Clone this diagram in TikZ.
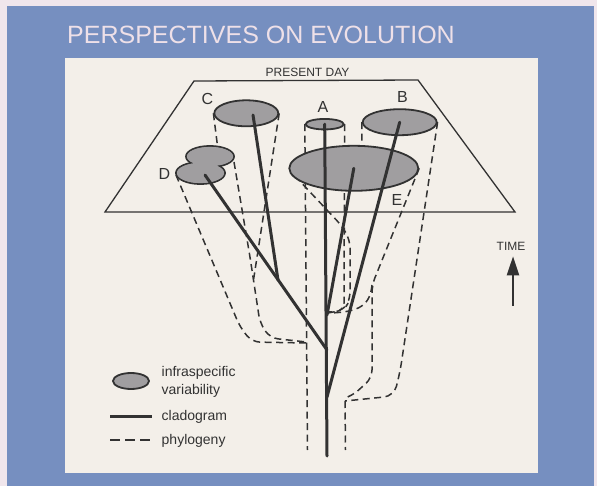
\documentclass[tikz,border=0pt]{standalone}
\usepackage{fontspec}
\setmainfont{Liberation Sans}
\usetikzlibrary{arrows.meta,positioning,shapes.geometric,backgrounds}
\definecolor{pagepink}{RGB}{240,230,236}
\definecolor{slideblue}{RGB}{118,143,192}
\definecolor{panelcream}{RGB}{243,239,233}
\definecolor{inkgray}{RGB}{50,50,50}
\definecolor{stipple}{RGB}{160,158,160}
\definecolor{titlepink}{RGB}{238,224,232}

\begin{document}
\begin{tikzpicture}[x=1pt,y=-1pt,
    spot/.style={ellipse,draw=inkgray,fill=stipple,line width=1.8pt,inner sep=0pt},
    taxon/.style={font=\fontsize{16}{16}\selectfont,text=inkgray,inner sep=0pt},
    clado/.style={draw=inkgray,line width=3pt,line cap=round},
    phylo/.style={draw=inkgray,line width=1.5pt,dash pattern=on 7pt off 4.5pt,rounded corners=8pt},
    plane/.style={draw=inkgray,line width=1.3pt},
    legtext/.style={font=\fontsize{14}{14}\selectfont,text=inkgray,anchor=base west,inner sep=0pt},
    smalltext/.style={font=\fontsize{12}{12}\selectfont,text=inkgray,inner sep=0pt}
  ]
    \useasboundingbox (0,0) rectangle (597,486);

    % present day variability
    \node[spot,minimum width=64pt,minimum height=26pt] (ellC) at (246.3,113.3) {};
    \node[spot,minimum width=38pt,minimum height=10.5pt] (ellA) at (324.7,124.2) {};
    \node[spot,minimum width=74pt,minimum height=26pt] (ellB) at (399.7,122.2) {};
    \node[spot,minimum width=129pt,minimum height=45pt] (ellE) at (353.8,168.3) {};
    % D is two lobes
    \draw[inkgray,fill=stipple,line width=1.8pt] (210,156.5) ellipse [x radius=24,y radius=10.5];
    \draw[inkgray,fill=stipple,line width=1.8pt] (200.5,173) ellipse [x radius=24.5,y radius=11];
    \fill[stipple] (210,156.5) ellipse [x radius=23.1,y radius=9.6] (200.5,173) ellipse [x radius=23.6,y radius=10.1];
    \coordinate (ellD) at (205,175);

    % branching points
    \coordinate (jC) at (278,280);
    \coordinate (jE) at (327,315);
    \coordinate (jD) at (327,350);
    \coordinate (jB) at (327,397);
    \coordinate (root) at (327,456);

    \draw[clado] (ellA.center) -- (root);
    \draw[clado] (ellD) -- (jD);
    \draw[clado] (253,115) -- (jC);
    \draw[clado] (ellE.center) -- (jE);
    \draw[clado] (ellB.center) -- (jB);

    \node[taxon] (labC) at (207.5,99) {C};
    \node[taxon] (labA) at (323,106.7) {A};
    \node[taxon] (labB) at (402.5,96.7) {B};
    \node[taxon] (labD) at (164.3,174) {D};
    \node[taxon] (labE) at (397,200) {E};

    \node[font=\fontsize{25}{25}\selectfont,text=titlepink,inner sep=0pt] (title) at (261,35) {PERSPECTIVES ON EVOLUTION};
    \node[smalltext] (present) at (307.5,72.7) {PRESENT DAY};

    \node[smalltext] (timelab) at (511,246) {TIME};
    \coordinate (timefoot) at (513,306);
    \draw[-{Triangle[length=19pt,width=12pt]},line width=2pt,draw=inkgray,fill=inkgray,shorten >=6pt] (timefoot) -- (timefoot |- timelab.south);

    % legend
    \node[spot,minimum width=36pt,minimum height=16pt] (keyspot) at (131,381) {};
    \node[legtext] (keyinfra) at (161.5,376) {infraspecific};
    \node[legtext] (keyvar) at (161.5,394) {variability};
    \coordinate (kc1) at (110,416);
    \coordinate (kc2) at (152,416);
    \draw[clado,line cap=butt] (kc1) -- (kc2);
    \node[legtext] (keyclado) at (161.5,420) {cladogram};
    \coordinate (kp1) at (110,440);
    \coordinate (kp2) at (152,440);
    \draw[phylo,dash pattern=on 10pt off 5pt] (kp1) -- (kp2);
    \node[legtext] (keyphylo) at (161.5,444) {phylogeny};

    \begin{pgfonlayer}{background}
      \fill[pagepink] (0,0) rectangle (597,486);
      \fill[slideblue] (7,6) rectangle (594,486);
      \fill[panelcream] (65,58) rectangle (538,473);
      \draw[plane] (194,81) -- (418,80) -- (515,212) -- (105,212) -- cycle;

      % phylogeny tubes
      \draw[phylo] (176,175) -- (240,327) -- (252,342) -- (306.5,343);
      \draw[phylo] (234,162) -- (250,257) -- (260,323) -- (270,338) -- (306.5,342);
      \draw[phylo] (ellC.east) -- (253.5,280);
      \draw[phylo] (ellC.west) -- (218,150);
      \draw[phylo] (ellA.west) -- (307.5,450);
      \draw[phylo] (ellA.east) -- (344,311) -- (328,312);
      \draw[phylo] (295,176) -- (342,226) -- (350,240) -- (350,300) -- (344,310) -- (328,313);
      \draw[phylo] (ellE.east) -- (372,285) -- (372,378) -- (352,396) -- (345,398);
      \draw[phylo] (372,285) .. controls (370,305) and (360,312) .. (330,313);
      \draw[phylo] (ellB.west) -- (362,150);
      \draw[phylo,rounded corners=10pt] (ellB.east) -- (400,372) -- (394,396) -- (345,401);
      \draw[phylo] (345,401) -- (345.5,450);
    \end{pgfonlayer}
  \end{tikzpicture}
\end{document}
